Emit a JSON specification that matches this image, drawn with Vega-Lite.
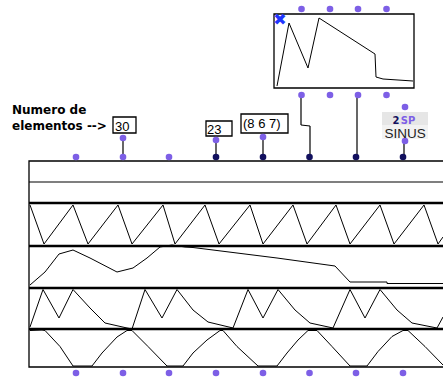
{
  "$schema": "https://vega.github.io/schema/vega-lite/v6.json",
  "width": 443,
  "height": 378,
  "autosize": {"type": "fit", "contains": "padding"},
  "padding": 0,
  "background": "white",
  "config": {"view": {"stroke": null}},
  "layer": [
    {
      "data": {"values": [
        {"k": "icon", "x": 382, "x2": 428, "y": 112, "y2": 125},
        {"k": "label", "x": 382, "x2": 428, "y": 125, "y2": 139}
      ]},
      "mark": {"type": "rect", "stroke": null},
      "encoding": {
        "x": {"field": "x", "type": "quantitative", "scale": {"domain": [0, 443], "nice": false, "zero": false}, "axis": null},
        "x2": {"field": "x2"},
        "y": {"field": "y", "type": "quantitative", "scale": {"domain": [0, 378], "nice": false, "zero": false, "reverse": true}, "axis": null},
        "y2": {"field": "y2"},
        "fill": {"field": "k", "type": "nominal", "scale": {"domain": ["icon", "label"], "range": ["#e6e6e6", "#f2f2f2"]}, "legend": null}
      }
    },
    {
      "data": {"values": [
        {"name": "main", "x": 29, "x2": 470, "y": 161, "y2": 367},
        {"name": "n30", "x": 113, "x2": 136, "y": 117, "y2": 133},
        {"name": "n23", "x": 206, "x2": 232, "y": 121, "y2": 136},
        {"name": "list", "x": 241, "x2": 288, "y": 114, "y2": 133},
        {"name": "bpf", "x": 274, "x2": 414, "y": 14, "y2": 88}
      ]},
      "mark": {"type": "rect", "fill": null, "stroke": "black", "strokeWidth": 1.3, "clip": true},
      "encoding": {
        "x": {"field": "x", "type": "quantitative", "scale": {"domain": [0, 443], "nice": false, "zero": false}, "axis": null},
        "x2": {"field": "x2"},
        "y": {"field": "y", "type": "quantitative", "scale": {"domain": [0, 378], "nice": false, "zero": false, "reverse": true}, "axis": null},
        "y2": {"field": "y2"}
      }
    },
    {
      "data": {"values": [
        {"k": "thin", "x": 29, "y": 182, "x2": 470, "y2": 182},
        {"k": "thick", "x": 29, "y": 203, "x2": 470, "y2": 203},
        {"k": "thick", "x": 29, "y": 246, "x2": 470, "y2": 246},
        {"k": "thick", "x": 29, "y": 288, "x2": 470, "y2": 288},
        {"k": "thick", "x": 29, "y": 329, "x2": 470, "y2": 329},
        {"k": "thin", "x": 123, "y": 138, "x2": 123, "y2": 157},
        {"k": "thin", "x": 216, "y": 141, "x2": 216, "y2": 157},
        {"k": "thin", "x": 263, "y": 137, "x2": 263, "y2": 157},
        {"k": "thin", "x": 301, "y": 95, "x2": 301, "y2": 125},
        {"k": "thin", "x": 301, "y": 125, "x2": 310, "y2": 126},
        {"k": "thin", "x": 310, "y": 126, "x2": 310, "y2": 157},
        {"k": "thin", "x": 357, "y": 95, "x2": 357, "y2": 157},
        {"k": "thin", "x": 404, "y": 140, "x2": 404, "y2": 157}
      ]},
      "mark": {"type": "rule", "color": "black", "clip": true},
      "encoding": {
        "x": {"field": "x", "type": "quantitative", "scale": {"domain": [0, 443], "nice": false, "zero": false}, "axis": null},
        "x2": {"field": "x2"},
        "y": {"field": "y", "type": "quantitative", "scale": {"domain": [0, 378], "nice": false, "zero": false, "reverse": true}, "axis": null},
        "y2": {"field": "y2"},
        "strokeWidth": {"field": "k", "type": "nominal", "scale": {"domain": ["thin", "thick"], "range": [1.2, 2.4]}, "legend": null}
      }
    },
    {
      "data": {"values": [
        {"s": "tri", "i": 0, "x": 30, "y": 205}, {"s": "tri", "i": 1, "x": 44, "y": 244},
        {"s": "tri", "i": 2, "x": 73, "y": 205}, {"s": "tri", "i": 3, "x": 88, "y": 244},
        {"s": "tri", "i": 4, "x": 118, "y": 205}, {"s": "tri", "i": 5, "x": 132, "y": 244},
        {"s": "tri", "i": 6, "x": 163, "y": 205}, {"s": "tri", "i": 7, "x": 175, "y": 244},
        {"s": "tri", "i": 8, "x": 205, "y": 205}, {"s": "tri", "i": 9, "x": 219, "y": 244},
        {"s": "tri", "i": 10, "x": 250, "y": 205}, {"s": "tri", "i": 11, "x": 263, "y": 244},
        {"s": "tri", "i": 12, "x": 293, "y": 205}, {"s": "tri", "i": 13, "x": 307, "y": 244},
        {"s": "tri", "i": 14, "x": 336, "y": 205}, {"s": "tri", "i": 15, "x": 350, "y": 244},
        {"s": "tri", "i": 16, "x": 380, "y": 205}, {"s": "tri", "i": 17, "x": 394, "y": 244},
        {"s": "tri", "i": 18, "x": 424, "y": 205}, {"s": "tri", "i": 19, "x": 438, "y": 244},
        {"s": "tri", "i": 20, "x": 443, "y": 237},

        {"s": "env", "i": 0, "x": 30, "y": 285}, {"s": "env", "i": 1, "x": 45, "y": 272},
        {"s": "env", "i": 2, "x": 59, "y": 254}, {"s": "env", "i": 3, "x": 73, "y": 250},
        {"s": "env", "i": 4, "x": 90, "y": 258}, {"s": "env", "i": 5, "x": 117, "y": 272},
        {"s": "env", "i": 6, "x": 133, "y": 268}, {"s": "env", "i": 7, "x": 147, "y": 258},
        {"s": "env", "i": 8, "x": 160, "y": 247}, {"s": "env", "i": 9, "x": 172, "y": 245},
        {"s": "env", "i": 10, "x": 185, "y": 247}, {"s": "env", "i": 11, "x": 193, "y": 247.5},
        {"s": "env", "i": 12, "x": 277, "y": 258}, {"s": "env", "i": 13, "x": 335, "y": 266},
        {"s": "env", "i": 14, "x": 350, "y": 282}, {"s": "env", "i": 15, "x": 387, "y": 282},
        {"s": "env", "i": 16, "x": 387, "y": 283.5}, {"s": "env", "i": 17, "x": 443, "y": 283.5},

        {"s": "dbl", "i": 0, "x": 30, "y": 327}, {"s": "dbl", "i": 1, "x": 43, "y": 289.5},
        {"s": "dbl", "i": 2, "x": 59, "y": 318}, {"s": "dbl", "i": 3, "x": 73, "y": 289.5},
        {"s": "dbl", "i": 4, "x": 90, "y": 308}, {"s": "dbl", "i": 5, "x": 105, "y": 323},
        {"s": "dbl", "i": 6, "x": 127, "y": 328}, {"s": "dbl", "i": 7, "x": 132, "y": 329},
        {"s": "dbl", "i": 8, "x": 145, "y": 289.5}, {"s": "dbl", "i": 9, "x": 162, "y": 318},
        {"s": "dbl", "i": 10, "x": 177, "y": 289.5}, {"s": "dbl", "i": 11, "x": 193, "y": 310},
        {"s": "dbl", "i": 12, "x": 208, "y": 322}, {"s": "dbl", "i": 13, "x": 233, "y": 328},
        {"s": "dbl", "i": 14, "x": 248, "y": 289.5}, {"s": "dbl", "i": 15, "x": 263, "y": 318},
        {"s": "dbl", "i": 16, "x": 278, "y": 289.5}, {"s": "dbl", "i": 17, "x": 295, "y": 310},
        {"s": "dbl", "i": 18, "x": 310, "y": 323}, {"s": "dbl", "i": 19, "x": 333, "y": 328},
        {"s": "dbl", "i": 20, "x": 350, "y": 289.5}, {"s": "dbl", "i": 21, "x": 365, "y": 318},
        {"s": "dbl", "i": 22, "x": 380, "y": 289.5}, {"s": "dbl", "i": 23, "x": 397, "y": 310},
        {"s": "dbl", "i": 24, "x": 412, "y": 323}, {"s": "dbl", "i": 25, "x": 437, "y": 328},
        {"s": "dbl", "i": 26, "x": 443, "y": 317},

        {"s": "trap", "i": 0, "x": 30, "y": 330.5}, {"s": "trap", "i": 1, "x": 42, "y": 330},
        {"s": "trap", "i": 2, "x": 45, "y": 330.5}, {"s": "trap", "i": 3, "x": 60, "y": 346.5},
        {"s": "trap", "i": 4, "x": 73, "y": 366}, {"s": "trap", "i": 5, "x": 92, "y": 366},
        {"s": "trap", "i": 6, "x": 102, "y": 353}, {"s": "trap", "i": 7, "x": 117, "y": 337},
        {"s": "trap", "i": 8, "x": 127, "y": 330.5}, {"s": "trap", "i": 9, "x": 132, "y": 330.5},
        {"s": "trap", "i": 10, "x": 148, "y": 346.5}, {"s": "trap", "i": 11, "x": 167, "y": 366},
        {"s": "trap", "i": 12, "x": 183, "y": 366}, {"s": "trap", "i": 13, "x": 193, "y": 353},
        {"s": "trap", "i": 14, "x": 207, "y": 340}, {"s": "trap", "i": 15, "x": 220, "y": 330.5},
        {"s": "trap", "i": 16, "x": 223, "y": 330.5}, {"s": "trap", "i": 17, "x": 237, "y": 346.5},
        {"s": "trap", "i": 18, "x": 258, "y": 366}, {"s": "trap", "i": 19, "x": 277, "y": 366},
        {"s": "trap", "i": 20, "x": 287, "y": 353}, {"s": "trap", "i": 21, "x": 298, "y": 340},
        {"s": "trap", "i": 22, "x": 308, "y": 330.5}, {"s": "trap", "i": 23, "x": 317, "y": 330.5},
        {"s": "trap", "i": 24, "x": 332, "y": 346.5}, {"s": "trap", "i": 25, "x": 350, "y": 366},
        {"s": "trap", "i": 26, "x": 367, "y": 366}, {"s": "trap", "i": 27, "x": 378, "y": 351.5},
        {"s": "trap", "i": 28, "x": 392, "y": 336.5}, {"s": "trap", "i": 29, "x": 403, "y": 330.5},
        {"s": "trap", "i": 30, "x": 408, "y": 330.5}, {"s": "trap", "i": 31, "x": 425, "y": 346.5},
        {"s": "trap", "i": 32, "x": 443, "y": 365},

        {"s": "bpf", "i": 0, "x": 277, "y": 86}, {"s": "bpf", "i": 1, "x": 289, "y": 23},
        {"s": "bpf", "i": 2, "x": 308, "y": 68}, {"s": "bpf", "i": 3, "x": 319, "y": 18},
        {"s": "bpf", "i": 4, "x": 375, "y": 54}, {"s": "bpf", "i": 5, "x": 376, "y": 77},
        {"s": "bpf", "i": 6, "x": 383, "y": 79}, {"s": "bpf", "i": 7, "x": 413, "y": 81}
      ]},
      "mark": {"type": "line", "color": "black", "strokeWidth": 1, "interpolate": "linear", "clip": true},
      "encoding": {
        "x": {"field": "x", "type": "quantitative", "scale": {"domain": [0, 443], "nice": false, "zero": false}, "axis": null},
        "y": {"field": "y", "type": "quantitative", "scale": {"domain": [0, 378], "nice": false, "zero": false, "reverse": true}, "axis": null},
        "detail": {"field": "s", "type": "nominal"},
        "order": {"field": "i", "type": "quantitative"}
      }
    },
    {
      "data": {"values": [
        {"k": "light", "x": 76, "y": 157}, {"k": "light", "x": 123, "y": 157}, {"k": "light", "x": 169, "y": 157},
        {"k": "dark", "x": 216, "y": 157}, {"k": "dark", "x": 263, "y": 157}, {"k": "dark", "x": 309.5, "y": 157},
        {"k": "dark", "x": 356, "y": 157}, {"k": "dark", "x": 403, "y": 157},
        {"k": "light", "x": 76, "y": 373}, {"k": "light", "x": 123, "y": 373}, {"k": "light", "x": 169, "y": 373},
        {"k": "light", "x": 216, "y": 373}, {"k": "light", "x": 263, "y": 373}, {"k": "light", "x": 309.5, "y": 373},
        {"k": "light", "x": 356, "y": 373}, {"k": "light", "x": 403, "y": 373},
        {"k": "light", "x": 123, "y": 138}, {"k": "light", "x": 216, "y": 140}, {"k": "light", "x": 263, "y": 137},
        {"k": "light", "x": 405, "y": 107}, {"k": "light", "x": 405, "y": 141},
        {"k": "light", "x": 301.5, "y": 9}, {"k": "light", "x": 330, "y": 9}, {"k": "light", "x": 358, "y": 9}, {"k": "light", "x": 386.5, "y": 9},
        {"k": "light", "x": 301.5, "y": 95}, {"k": "light", "x": 330, "y": 95}, {"k": "light", "x": 358, "y": 95}, {"k": "light", "x": 386.5, "y": 95}
      ]},
      "mark": {"type": "point", "filled": true, "opacity": 1, "size": 44, "shape": "circle"},
      "encoding": {
        "x": {"field": "x", "type": "quantitative", "scale": {"domain": [0, 443], "nice": false, "zero": false}, "axis": null},
        "y": {"field": "y", "type": "quantitative", "scale": {"domain": [0, 378], "nice": false, "zero": false, "reverse": true}, "axis": null},
        "color": {"field": "k", "type": "nominal", "scale": {"domain": ["light", "dark"], "range": ["#7d5fe6", "#12105e"]}, "legend": null}
      }
    },
    {
      "data": {"values": [
        {"t": "Numero de", "x": 12, "y": 114},
        {"t": "elementos -->", "x": 12, "y": 130}
      ]},
      "mark": {"type": "text", "align": "left", "baseline": "alphabetic", "font": "DejaVu Sans", "fontWeight": "bold", "fontSize": 12, "color": "black"},
      "encoding": {
        "x": {"field": "x", "type": "quantitative", "scale": {"domain": [0, 443], "nice": false, "zero": false}, "axis": null},
        "y": {"field": "y", "type": "quantitative", "scale": {"domain": [0, 378], "nice": false, "zero": false, "reverse": true}, "axis": null},
        "text": {"field": "t"}
      }
    },
    {
      "data": {"values": [
        {"t": "30", "x": 115, "y": 131},
        {"t": "23", "x": 207, "y": 134},
        {"t": "(8 6 7)", "x": 243, "y": 128}
      ]},
      "mark": {"type": "text", "align": "left", "baseline": "alphabetic", "font": "Liberation Sans", "fontSize": 13, "color": "black"},
      "encoding": {
        "x": {"field": "x", "type": "quantitative", "scale": {"domain": [0, 443], "nice": false, "zero": false}, "axis": null},
        "y": {"field": "y", "type": "quantitative", "scale": {"domain": [0, 378], "nice": false, "zero": false, "reverse": true}, "axis": null},
        "text": {"field": "t"}
      }
    },
    {
      "data": {"values": [
        {"t": "SINUS", "x": 405, "y": 137.5}
      ]},
      "mark": {"type": "text", "align": "center", "baseline": "alphabetic", "font": "Liberation Sans", "fontSize": 13.5, "color": "#222222"},
      "encoding": {
        "x": {"field": "x", "type": "quantitative", "scale": {"domain": [0, 443], "nice": false, "zero": false}, "axis": null},
        "y": {"field": "y", "type": "quantitative", "scale": {"domain": [0, 378], "nice": false, "zero": false, "reverse": true}, "axis": null},
        "text": {"field": "t"}
      }
    },
    {
      "data": {"values": [
        {"t": "2", "x": 396, "y": 123.5, "k": "dark"},
        {"t": "SP", "x": 408, "y": 123.5, "k": "blue"}
      ]},
      "mark": {"type": "text", "align": "center", "baseline": "alphabetic", "font": "DejaVu Sans", "fontWeight": "bold", "fontSize": 10},
      "encoding": {
        "x": {"field": "x", "type": "quantitative", "scale": {"domain": [0, 443], "nice": false, "zero": false}, "axis": null},
        "y": {"field": "y", "type": "quantitative", "scale": {"domain": [0, 378], "nice": false, "zero": false, "reverse": true}, "axis": null},
        "text": {"field": "t"},
        "color": {"field": "k", "type": "nominal", "scale": {"domain": ["dark", "blue"], "range": ["#1a2a9a", "#4a5cf0"]}, "legend": null}
      }
    },
    {
      "data": {"values": [
        {"t": "✖", "x": 280, "y": 20}
      ]},
      "mark": {"type": "text", "align": "center", "baseline": "middle", "font": "DejaVu Sans", "fontSize": 16, "color": "#1f35ff"},
      "encoding": {
        "x": {"field": "x", "type": "quantitative", "scale": {"domain": [0, 443], "nice": false, "zero": false}, "axis": null},
        "y": {"field": "y", "type": "quantitative", "scale": {"domain": [0, 378], "nice": false, "zero": false, "reverse": true}, "axis": null},
        "text": {"field": "t"}
      }
    }
  ]
}
